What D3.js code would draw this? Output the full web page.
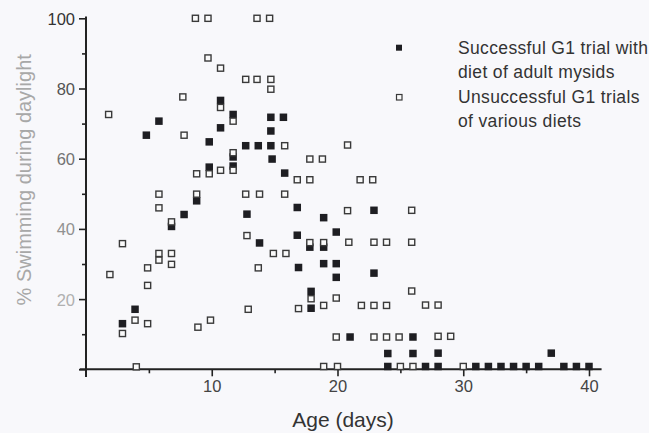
<!DOCTYPE html>
<html>
<head>
<meta charset="utf-8">
<script src="https://cdn.jsdelivr.net/npm/d3@7"></script>
<style>
  body { margin: 0; background: #f8f8fb; }
  svg { display: block; font-family: "Liberation Sans", Arial, sans-serif; }
</style>
</head>
<body>
<script>
// age (days) / % swimming, successful G1 trial with adult mysids
var successAge = [5.8, 4.8, 10.7, 11.7, 10.7, 9.8, 12.7, 13.7, 14.7, 11.7, 9.8, 11.7, 8.8,
  14.7, 15.7, 14.7, 14.8, 15.8, 7.8, 6.8, 12.8, 13.8, 3.9, 2.9, 16.8, 18.9, 22.9, 19.9,
  16.8, 17.8, 18.9, 16.9, 18.9, 19.9, 19.9, 22.9, 17.9, 17.9, 21.0, 26.0, 24.0, 26.0,
  28.0, 37.0, 24, 27, 28, 31, 32, 33, 34, 35, 36, 38, 39, 40];
var successPct = [70.7, 66.7, 76.6, 72.6, 68.8, 64.8, 63.7, 63.7, 63.7, 60.5, 57.6, 57.9, 48.0,
  71.8, 71.8, 67.9, 59.9, 55.9, 44.1, 40.7, 44.2, 36.0, 17.1, 13.0, 46.1, 43.2, 45.3, 39.1,
  38.2, 34.8, 34.8, 29.0, 30.1, 30.1, 26.2, 27.4, 22.2, 17.4, 9.2, 9.2, 4.5, 4.5,
  4.6, 4.6, 0.8, 0.8, 0.8, 0.8, 0.8, 0.8, 0.8, 0.8, 0.8, 0.8, 0.8, 0.8];

// unsuccessful G1 trials, various diets
var failAge = [8.7, 9.7, 13.6, 14.6, 9.7, 10.7, 12.7, 13.6, 14.7, 14.7, 7.7, 10.7, 11.7, 1.8,
  7.8, 15.8, 11.7, 9.8, 8.8, 10.7, 11.7, 5.8, 8.8, 12.7, 13.8, 15.8, 20.8, 17.8, 18.8,
  16.8, 17.8, 21.8, 22.8, 5.8, 6.8, 12.8, 2.9, 5.8, 5.8, 6.8, 6.8, 4.9, 13.7, 1.9, 4.9,
  12.9, 3.9, 4.9, 2.9, 8.9, 9.9, 4.0, 20.8, 25.9, 17.8, 18.9, 20.9, 22.9, 23.9, 25.9,
  14.9, 15.9, 25.9, 17.9, 16.9, 18.9, 19.9, 21.9, 22.9, 23.9, 19.9, 22.9, 23.9, 24.9,
  27.0, 28.0, 28.0, 29.0, 18.9, 20.0, 25.0, 26.0, 30.0];
var failPct = [100, 100, 100, 100, 88.7, 85.8, 82.6, 82.6, 82.6, 79.8, 77.6, 74.6, 70.7, 72.6,
  66.7, 63.7, 61.7, 55.7, 55.7, 56.7, 56.7, 49.9, 49.9, 49.9, 49.9, 49.9, 63.9, 59.9, 59.9,
  54.0, 54.0, 54.0, 54.0, 46.0, 42.0, 38.1, 35.8, 33.0, 31.1, 33.0, 29.9, 28.9, 28.9, 27.0, 23.9,
  17.1, 14.0, 13.0, 10.2, 12.0, 14.0, 0.7, 45.2, 45.3, 36.1, 36.1, 36.2, 36.2, 36.2, 36.2,
  33.0, 33.0, 22.3, 20.1, 17.3, 18.2, 20.3, 18.2, 18.2, 18.2, 9.2, 9.2, 9.2, 9.2,
  18.3, 18.3, 9.4, 9.4, 0.8, 0.8, 0.8, 0.8, 0.8];

var xMajor = [10, 20, 30, 40];
var xMinor = [5, 15, 25, 35];
var yMajor = [0, 20, 40, 60, 80, 100];
var yMinor = [10, 30, 50, 70, 90];
var legendLines = [
  ["Successful G1 trial with", "diet of adult mysids"],
  ["Unsuccessful G1 trials", "of various diets"]
];

var width = 649, height = 433;
var svg = d3.select('body').append('svg').attr('width', width).attr('height', height);

var x = d3.scaleLinear().domain([0, 40]).range([86, 589]);
var y = d3.scaleLinear().domain([0, 100]).range([369.3, 18.3]);

var ink = '#222';

// y axis
var yAxis = svg.append('g').attr('transform', 'translate(' + x(0) + ',0)');
yAxis.call(d3.axisLeft(y).tickValues(yMajor).tickSize(7).tickSizeOuter(0)
  .tickFormat(function (d) { return d === 0 ? '' : d; }));
yAxis.append('g').call(d3.axisLeft(y).tickValues(yMinor).tickSize(4).tickFormat(''));
yAxis.selectAll('.domain').remove();
yAxis.selectAll('line').attr('stroke', ink).attr('stroke-width', 1.6);
var yShade = d3.scaleLinear().domain([20, 100]).range(['#b0b0b0', '#333']);
yAxis.selectAll('text')
  .attr('font-size', 16.5).attr('font-family', '"Liberation Sans", Arial, sans-serif')
  .attr('x', -11).attr('dy', '0.36em')
  .attr('fill', function (d) { return yShade(d); });
svg.append('line')
  .attr('x1', x(0)).attr('x2', x(0)).attr('y1', y(-2.2)).attr('y2', y(100.5))
  .attr('stroke', ink).attr('stroke-width', 2);

// x axis
var xAxis = svg.append('g').attr('transform', 'translate(0,' + y(0) + ')');
xAxis.call(d3.axisBottom(x).tickValues(xMajor).tickSize(7).tickSizeOuter(0));
xAxis.append('g').call(d3.axisBottom(x).tickValues(xMinor).tickSize(4).tickFormat(''));
xAxis.selectAll('.domain').remove();
xAxis.selectAll('line').attr('stroke', ink).attr('stroke-width', 1.6);
xAxis.selectAll('text')
  .attr('font-size', 16.5).attr('font-family', '"Liberation Sans", Arial, sans-serif')
  .attr('fill', '#444').attr('y', 11);
svg.append('line')
  .attr('x1', x(-0.5)).attr('x2', x(41.0)).attr('y1', y(0)).attr('y2', y(0))
  .attr('stroke', ink).attr('stroke-width', 2);

// axis titles
svg.append('text')
  .attr('transform', 'translate(31,' + ((y(0) + y(100)) / 2 - 14) + ') rotate(-90)')
  .attr('text-anchor', 'middle').attr('font-size', 20).attr('fill', '#a8a8a8')
  .text('% Swimming during daylight');
svg.append('text')
  .attr('x', 343).attr('y', 427).attr('text-anchor', 'middle')
  .attr('font-size', 21).attr('fill', '#333')
  .text('Age (days)');

// points
var sz = 7.5;
var success = successAge.map(function (a, i) { return { age: a, pct: successPct[i] }; });
var fail = failAge.map(function (a, i) { return { age: a, pct: failPct[i] }; });

svg.append('g').selectAll('rect').data(success).enter().append('rect')
  .attr('x', function (d) { return x(d.age) - sz / 2; })
  .attr('y', function (d) { return y(d.pct) - sz / 2; })
  .attr('width', sz).attr('height', sz)
  .attr('fill', '#1e1e22');

svg.append('g').selectAll('rect').data(fail).enter().append('rect')
  .attr('x', function (d) { return x(d.age) - (sz - 1.4) / 2; })
  .attr('y', function (d) { return y(d.pct) - (sz - 1.4) / 2; })
  .attr('width', sz - 1.4).attr('height', sz - 1.4)
  .attr('fill', '#fafafa').attr('stroke', '#3a3a3a').attr('stroke-width', 1.4);

// legend
var legend = svg.append('g');
legend.append('rect').attr('x', 396).attr('y', 44.7).attr('width', 6).attr('height', 6)
  .attr('fill', '#1e1e22');
legend.append('rect').attr('x', 396.5).attr('y', 94.5).attr('width', 5.5).attr('height', 5.5)
  .attr('fill', '#fafafa').attr('stroke', '#3a3a3a').attr('stroke-width', 1.2);
legendLines.forEach(function (lines, k) {
  lines.forEach(function (t, j) {
    legend.append('text')
      .attr('x', 458).attr('y', 54 + k * 49 + j * 24)
      .attr('font-size', 17.5).attr('letter-spacing', 0.35).attr('fill', '#333')
      .text(t);
  });
});
</script>
</body>
</html>
